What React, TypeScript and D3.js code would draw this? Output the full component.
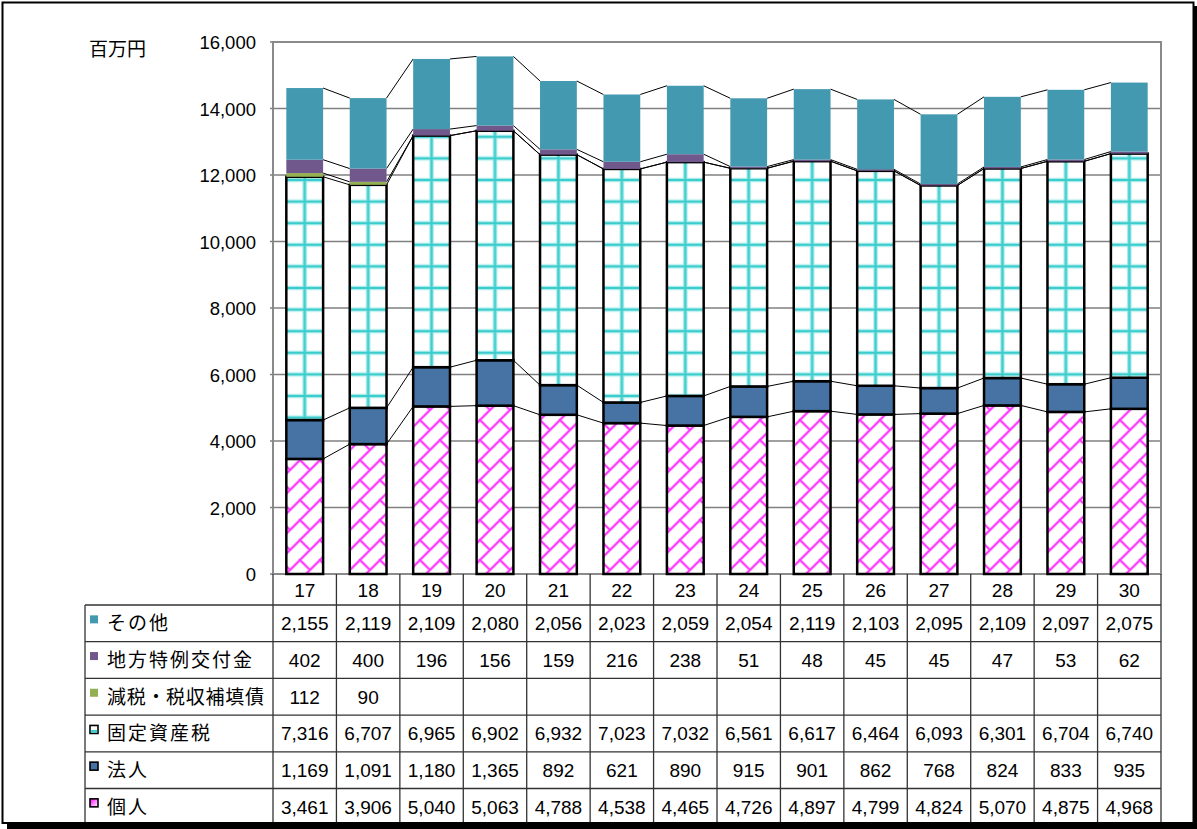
import React from 'react';
import * as d3 from 'd3';

const years = ['17', '18', '19', '20', '21', '22', '23', '24', '25', '26', '27', '28', '29', '30'];
const kojin = [3461, 3906, 5040, 5063, 4788, 4538, 4465, 4726, 4897, 4799, 4824, 5070, 4875, 4968];
const houjin = [1169, 1091, 1180, 1365, 892, 621, 890, 915, 901, 862, 768, 824, 833, 935];
const kotei = [7316, 6707, 6965, 6902, 6932, 7023, 7032, 6561, 6617, 6464, 6093, 6301, 6704, 6740];
const genzei: (number | null)[] = [112, 90, null, null, null, null, null, null, null, null, null, null, null, null];
const chihou = [402, 400, 196, 156, 159, 216, 238, 51, 48, 45, 45, 47, 53, 62];
const sonota = [2155, 2119, 2109, 2080, 2056, 2023, 2059, 2054, 2119, 2103, 2095, 2109, 2097, 2075];
const yTicks = [0, 2000, 4000, 6000, 8000, 10000, 12000, 14000, 16000];

type SeriesDef = { key: string; label: string; values: (number | null)[] };
// bottom to top
const seriesDefs: SeriesDef[] = [
  { key: 'kojin', label: '個人', values: kojin },
  { key: 'houjin', label: '法人', values: houjin },
  { key: 'kotei', label: '固定資産税', values: kotei },
  { key: 'genzei', label: '減税・税収補填債', values: genzei },
  { key: 'chihou', label: '地方特例交付金', values: chihou },
  { key: 'sonota', label: 'その他', values: sonota },
];

const W = 1197;
const H = 829;
const plotL = 273, plotR = 1161, plotT = 42, plotB = 574;
const tableL = 85;
const tableTop = 605;
const rowH = 36.7;

const fmt = d3.format(',');

export default function App() {
  const x = d3.scaleBand<string>().domain(years).range([plotL, plotR]).paddingInner(0.42).paddingOuter(0.21);
  const y = d3.scaleLinear().domain([0, 16000]).range([plotB, plotT]);
  const step = x.step();
  const bw = x.bandwidth();

  const tableData = years.map((yr, i) => {
    const o: any = { year: yr };
    seriesDefs.forEach((s) => (o[s.key] = s.values[i] ?? 0));
    return o;
  });
  const stacked = d3.stack<any>().keys(seriesDefs.map((s) => s.key))(tableData);

  const fills: Record<string, string> = {
    kojin: 'url(#brick)',
    houjin: '#4672A4',
    kotei: '',
    genzei: '#93B052',
    chihou: '#70588C',
    sonota: '#4399B0',
  };
  const bordered: Record<string, boolean> = { kojin: true, houjin: true, kotei: true };

  const font = '"Liberation Sans", Arial, sans-serif';
  const jfont = '"Noto Sans CJK JP", sans-serif';

  const tableRows = [...seriesDefs].reverse();
  const T = 20;

  return (
    <svg width={W} height={H} style={{ position: 'absolute', left: 0, top: 0 }}>
      <defs>
        <pattern id="brick" patternUnits="userSpaceOnUse" width={T} height={T}>
          <rect width={T} height={T} fill="#fff" />
          <g stroke="#ffc4ff" strokeWidth={3.5} fill="none">
            <path d={`M-2,${T + 2} L${T + 2},-2`} />
            <path d={`M${T / 2},${T / 2} L-1,-1`} />
            <path d={`M${T + 1},${T + 1} L${T - 1},${T - 1}`} />
          </g>
          <g stroke="#ff33ff" strokeWidth={1.7} fill="none">
            <path d={`M-2,${T + 2} L${T + 2},-2`} />
            <path d={`M${T / 2},${T / 2} L-1,-1`} />
            <path d={`M${T + 1},${T + 1} L${T - 1},${T - 1}`} />
          </g>
        </pattern>
        {years.map((yr, i) => (
          <pattern key={yr} id={`grid${i}`} patternUnits="userSpaceOnUse" x={x(yr)!} y={180} width={bw} height={21.6}>
            <rect width={bw} height={21.6} fill="#fff" />
            <g stroke="#a8ecec" strokeWidth={4.5}>
              <line x1={bw / 2} x2={bw / 2} y1={0} y2={21.6} />
              <line x1={0} x2={bw} y1={0} y2={0} />
              <line x1={0} x2={bw} y1={21.6} y2={21.6} />
            </g>
            <g stroke="#3CCCCC" strokeWidth={2.2}>
              <line x1={bw / 2} x2={bw / 2} y1={0} y2={21.6} />
              <line x1={0} x2={bw} y1={0} y2={0} />
              <line x1={0} x2={bw} y1={21.6} y2={21.6} />
            </g>
          </pattern>
        ))}
        <linearGradient id="kojinSw" x1="0" y1="0" x2="1" y2="1">
          <stop offset="0" stopColor="#ff00ff" />
          <stop offset="1" stopColor="#ffffff" />
        </linearGradient>
      </defs>

      <rect x={0} y={0} width={W} height={H} fill="#fff" />

      {/* gridlines */}
      {yTicks.slice(1, -1).map((t) => (
        <line key={t} x1={plotL} x2={plotR} y1={y(t)} y2={y(t)} stroke="#808080" strokeWidth={1.5} />
      ))}
      {/* plot border */}
      <rect x={plotL} y={plotT} width={plotR - plotL} height={plotB - plotT} fill="none" stroke="#8a8a8a" strokeWidth={2} />
      {yTicks.map((t) => (
        <line key={'tk' + t} x1={plotL - 3} x2={plotL} y1={y(t)} y2={y(t)} stroke="#808080" strokeWidth={1.5} />
      ))}

      {/* series lines */}
      {stacked.map((layer) =>
        years.slice(0, -1).map((yr, i) => (
          <line
            key={layer.key + yr}
            x1={x(yr)! + bw}
            x2={x(years[i + 1])!}
            y1={y(layer[i][1])}
            y2={y(layer[i + 1][1])}
            stroke="#000"
            strokeWidth={1}
          />
        ))
      )}

      {/* bars */}
      {stacked.map((layer) =>
        layer.map((d, i) => {
          const h = y(d[0]) - y(d[1]);
          if (h <= 0) return null;
          const fill = layer.key === 'kotei' ? `url(#grid${i})` : fills[layer.key];
          return (
            <rect
              key={layer.key + i}
              x={x(years[i])!}
              y={y(d[1])}
              width={bw}
              height={h}
              fill={fill}
              stroke={bordered[layer.key] ? '#000' : 'none'}
              strokeWidth={bordered[layer.key] ? 2.5 : 0}
            />
          );
        })
      )}

      {/* y axis labels */}
      {yTicks.map((t) => (
        <text key={'yl' + t} x={256} y={y(t) + 7} textAnchor="end" fontFamily={font} fontSize={18.5} fill="#000">
          {fmt(t)}
        </text>
      ))}
      <text x={89} y={56} fontFamily={jfont} fontSize={19} fill="#000">百万円</text>

      {/* table grid */}
      {d3.range(15).map((k) => (
        <line key={'v' + k} x1={plotL + k * step} x2={plotL + k * step} y1={plotB} y2={H} stroke="#333" strokeWidth={1.3} />
      ))}
      <line x1={tableL} x2={tableL} y1={tableTop} y2={H} stroke="#333" strokeWidth={1.3} />
      {d3.range(6).map((r) => (
        <line key={'h' + r} x1={tableL} x2={plotR} y1={tableTop + r * rowH} y2={tableTop + r * rowH} stroke="#333" strokeWidth={1.3} />
      ))}

      {/* x labels */}
      {years.map((yr) => (
        <text key={'xl' + yr} x={x(yr)! + bw / 2} y={597} textAnchor="middle" fontFamily={font} fontSize={19} fill="#000">
          {yr}
        </text>
      ))}

      {/* table rows */}
      {tableRows.map((s, r) => {
        const cy = tableTop + r * rowH + rowH / 2;
        let swatch: React.ReactNode;
        if (s.key === 'sonota' || s.key === 'chihou' || s.key === 'genzei') {
          swatch = <rect x={90} y={cy - 8} width={8} height={8} fill={fills[s.key]} />;
        } else if (s.key === 'kotei') {
          swatch = (
            <g>
              <rect x={90} y={cy - 8} width={8} height={8} fill="#fff" stroke="#000" strokeWidth={1.6} />
              <rect x={90.8} y={cy - 3.5} width={6.4} height={2.8} fill="#3CCCCC" />
            </g>
          );
        } else if (s.key === 'houjin') {
          swatch = <rect x={90} y={cy - 8} width={8} height={8} fill="#4672A4" stroke="#000" strokeWidth={1.6} />;
        } else {
          swatch = <rect x={90} y={cy - 8} width={8} height={8} fill="url(#kojinSw)" stroke="#000" strokeWidth={1.6} />;
        }
        return (
          <g key={'row' + s.key}>
            {swatch}
            <text
              x={107}
              y={cy + 7}
              fontFamily={jfont}
              fontSize={19}
              letterSpacing={s.key === 'genzei' ? 0.7 : 2}
              fill="#000"
            >
              {s.label}
            </text>
            {years.map((yr, i) =>
              s.values[i] == null ? null : (
                <text key={yr} x={x(yr)! + bw / 2} y={cy + 7} textAnchor="middle" fontFamily={font} fontSize={19} fill="#000">
                  {fmt(s.values[i] as number)}
                </text>
              )
            )}
          </g>
        );
      })}

      {/* outer frame with shadow */}
      <rect x={2.5} y={2.5} width={1191} height={820.5} fill="none" stroke="#000" strokeWidth={2} />
      <rect x={1193} y={6} width={4} height={H - 6} fill="#000" />
      <rect x={7} y={823.5} width={W - 7} height={H - 823.5} fill="#000" />
    </svg>
  );
}
